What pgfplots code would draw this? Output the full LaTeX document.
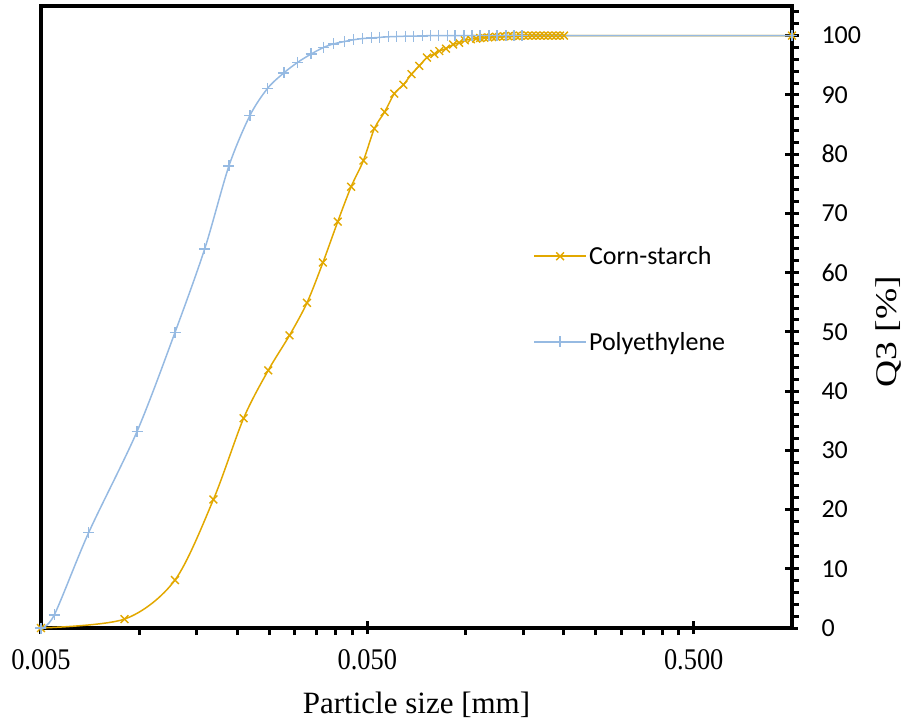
\documentclass[border=0pt]{standalone}
\usepackage{fontspec}
\setmainfont{Liberation Serif}
\newfontfamily\calibri{Carlito}
\usepackage{pgfplots}
\pgfplotsset{compat=1.18}

\definecolor{cornc}{RGB}{226,168,0}
\definecolor{polyc}{RGB}{150,186,226}

% Corn-starch
\pgfplotstableread{
x y
0.005 0
0.00901 1.5
0.01287 8.1
0.01688 21.7
0.02088 35.4
0.02485 43.5
0.02887 49.4
0.03266 54.9
0.03655 61.7
0.04057 68.6
0.04459 74.5
0.04862 78.9
0.05253 84.3
0.05646 87.1
0.06046 90.2
0.06445 91.7
0.06831 93.5
0.07210 94.9
0.07615 96.3
0.08017 96.9
0.08304 97.4
0.08705 97.8
0.09160 98.5
0.09553 98.8
0.09946 99.2
0.10380 99.4
0.10772 99.5
0.11080 99.6
0.11399 99.65
0.11724 99.7
0.12059 99.75
0.12402 99.8
0.12756 99.85
0.13121 99.9
0.13495 99.9
0.13881 99.95
0.14278 99.95
0.14686 100
0.15105 100
0.15537 100
0.15981 100
0.16437 100
0.16907 100
0.17390 100
0.17887 100
0.18398 100
0.18923 100
0.19464 100
0.20020 100
1.0 100
}\cornstarch

% Polyethylene
\pgfplotstableread{
x y
0.005 0
0.00549 2.2
0.00700 16.1
0.00985 33.2
0.01287 49.9
0.01587 64.0
0.01883 78.0
0.02183 86.5
0.02473 91.1
0.02773 93.7
0.03060 95.5
0.03364 96.9
0.03670 98.0
0.03940 98.6
0.04250 99.0
0.04540 99.3
0.04827 99.5
0.05143 99.6
0.05440 99.7
0.05798 99.8
0.06134 99.85
0.06535 99.9
0.06912 99.9
0.07366 99.95
0.07790 100
0.08243 100
0.08782 100
0.09291 100
0.09900 100
0.10473 100
0.11080 100
0.11806 100
0.12489 100
0.13307 100
0.14077 100
0.14892 100
1.0 100
}\polyethylene

\begin{document}
\begin{tikzpicture}
\begin{axis}[
    scale only axis,
    width=751pt, height=622pt,
    xmode=log,
    xmin=0.005, xmax=1,
    ymin=0, ymax=105,
    axis line style={line width=3.5pt, black},
    xtick={0.005,0.05,0.5},
    xticklabels={\scalebox{0.88}[1]{0.005},\scalebox{0.88}[1]{0.050},\scalebox{0.88}[1]{0.500}},
    minor xtick={0.01,0.015,0.02,0.025,0.03,0.035,0.04,0.045,0.1,0.15,0.2,0.25,0.3,0.35,0.4,0.45},
    xtick pos=bottom,
    ytick={0,10,...,100},
    minor ytick={2,4,...,104},
    ytick pos=right,
    yticklabel pos=right,
    tick align=outside,
    major tick length=6pt,
    minor tick length=7pt,
    every tick/.style={black, line width=3pt},
    extra x ticks={0.05,0.5},
    extra x tick labels={},
    extra y ticks={0,10,...,100},
    extra y tick labels={},
    extra tick style={tick align=inside, major tick length=7pt},
    /pgf/number format/assume math mode=true,
    xticklabel style={font=\fontsize{30}{34}\selectfont, anchor=north, yshift=-12pt},
    yticklabel style={font=\calibri\fontsize{26}{30}\selectfont, anchor=west, xshift=20pt},
    xlabel={Particle size [mm]},
    xlabel style={font=\fontsize{31}{36}\selectfont, at={(axis description cs:0.5,0)}, anchor=center, yshift=-77pt},
    ylabel={\scalebox{1.25}[1]{Q3 [\%]}},
    every axis y label/.style={at={(axis description cs:1.128,0.476)}, anchor=center, rotate=90},
    ylabel style={font=\fontsize{30}{36}\selectfont},
    legend style={draw=none, fill=none, at={(axis description cs:0.655,0.617)}, anchor=north west,
        font=\calibri\fontsize{26}{31}\selectfont, row sep=62pt, inner sep=0pt},
    legend cell align=left,
    legend image code/.code={\draw[line width=2pt, mark repeat=2, mark phase=2] plot coordinates {(0pt,0pt) (26pt,0pt) (52pt,0pt)};},
]
\addplot[smooth, color=cornc, line width=1.5pt, mark=x, mark size=5.5pt, mark options={line width=1.4pt}] table[x=x,y=y] {\cornstarch};
\addlegendentry{Corn-starch}
\addplot[smooth, color=polyc, line width=1.5pt, mark=+, mark size=5.5pt, mark options={line width=1.4pt}] table[x=x,y=y] {\polyethylene};
\addlegendentry{Polyethylene}
\end{axis}
\path (current axis.south west) ++(-41pt,-95pt) coordinate (bl);
\path (current axis.north east) ++(113pt,6pt) coordinate (tr);
\path (bl) rectangle (tr);
\end{tikzpicture}
\end{document}
